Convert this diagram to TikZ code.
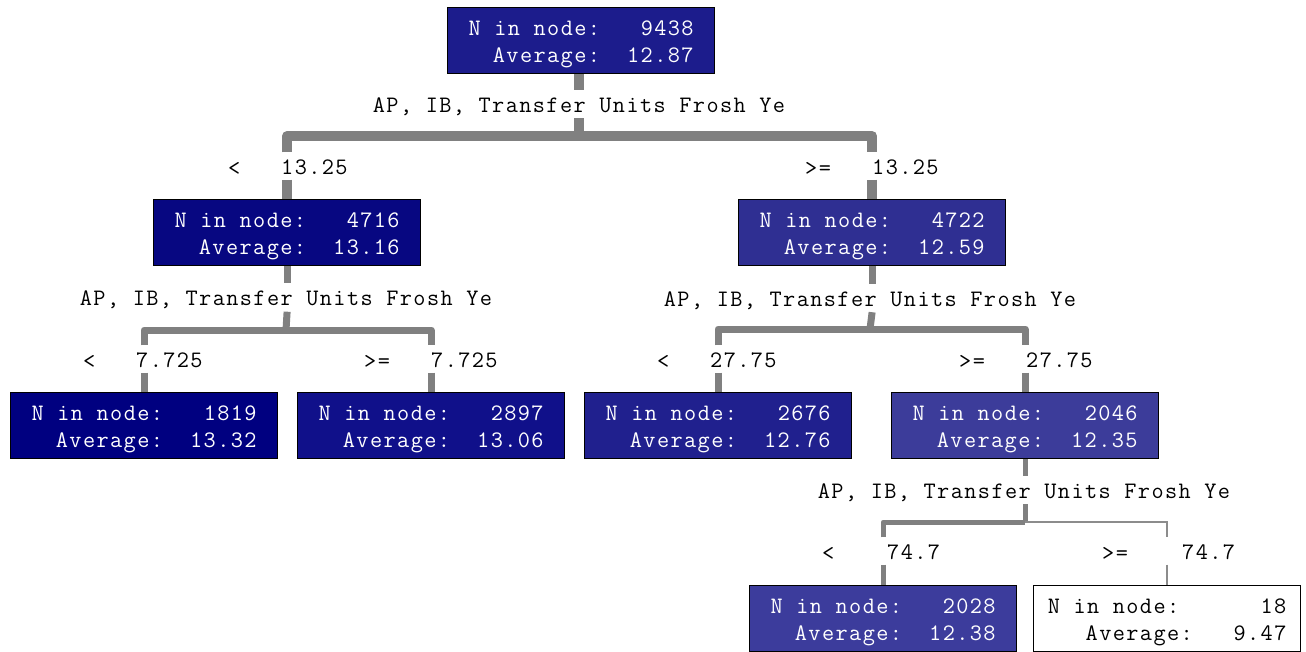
\documentclass[tikz,border=0pt]{standalone}
\usepackage{fontspec}
\setmonofont{Latin Modern Mono}[LetterSpace=6]
\definecolor{cRoot}{HTML}{1C1C8C}
\definecolor{cA}{HTML}{070781}
\definecolor{cB}{HTML}{2F2F92}
\definecolor{cAA}{HTML}{000080}
\definecolor{cAB}{HTML}{10108A}
\definecolor{cBA}{HTML}{20208E}
\definecolor{cBB}{HTML}{3C3C9A}
\definecolor{cBBA}{HTML}{3C3C9C}
\definecolor{edge}{HTML}{808080}
\definecolor{thinedge}{HTML}{8C8C8C}
\newcommand{\tfont}{\ttfamily\fontsize{23.6}{27}\selectfont}
\newcommand{\topstrut}{\rule{0pt}{22pt}}
\tikzset{
  tbox/.style={draw=black, line width=1.2pt, minimum width=267pt, minimum height=66pt,
    inner sep=0pt, text=white, font=\tfont, align=right, anchor=north west},
  varlbl/.style={font=\tfont, inner sep=0pt, text height=18pt, text depth=2pt, minimum height=28pt, anchor=center},
  thr/.style={font=\tfont, inner sep=0pt, text height=18pt, text depth=2pt, minimum height=27pt, anchor=west},
  relop/.style={font=\tfont, inner sep=0pt, text height=18pt, text depth=2pt, anchor=west},
  w1/.style={draw=edge, line width=10pt, line join=round},
  w2/.style={draw=edge, line width=7pt, line join=round},
  w3/.style={draw=edge, line width=5pt, line join=round},
  w4/.style={draw=thinedge, line width=1.3pt},
}
\begin{document}
\begin{tikzpicture}[x=1pt,y=-1pt]
\useasboundingbox (0,0) rectangle (1306,651);
% boxes
\node[tbox, fill=cRoot] (n0) at (447,7) {\topstrut N in node:~~~9438\\Average:~~12.87};
\node[tbox, fill=cA] (n1) at (153,199) {\topstrut N in node:~~~4716\\Average:~~13.16};
\node[tbox, fill=cB] (n2) at (738,199) {\topstrut N in node:~~~4722\\Average:~~12.59};
\node[tbox, fill=cAA] (n11) at (10,392) {\topstrut N in node:~~~1819\\Average:~~13.32};
\node[tbox, fill=cAB] (n12) at (297,392) {\topstrut N in node:~~~2897\\Average:~~13.06};
\node[tbox, fill=cBA] (n21) at (584,392) {\topstrut N in node:~~~2676\\Average:~~12.76};
\node[tbox, fill=cBB] (n22) at (891,392) {\topstrut N in node:~~~2046\\Average:~~12.35};
\node[tbox, fill=cBBA] (n221) at (749,585) {\topstrut N in node:~~~2028\\Average:~~12.38};
\node[tbox, fill=white, text=black] (n222) at (1033,585) {\topstrut N in node:~~~~~~18\\Average:~~~9.47};

% split labels
\node[varlbl] (v0) at (579,104) {AP, IB, Transfer Units Frosh Ye};
\node[varlbl] (v1) at (286,297.5) {AP, IB, Transfer Units Frosh Ye};
\node[varlbl] (v2) at (870,298) {AP, IB, Transfer Units Frosh Ye};
\node[varlbl] (v22) at (1024,490) {AP, IB, Transfer Units Frosh Ye};

% threshold labels
\node[relop] (r1) at (228,167) {<};
\node[thr] (t1) at (281,166) {13.25};
\node[relop] (r2) at (805,167) {>=};
\node[thr] (t2) at (872,166) {13.25};
\node[relop] (r11) at (83,360) {<};
\node[thr] (t11) at (136,359) {7.725};
\node[relop] (r12) at (364,360) {>=};
\node[thr] (t12) at (431,359) {7.725};
\node[relop] (r21) at (657,360) {<};
\node[thr] (t21) at (710,359) {27.75};
\node[relop] (r22) at (959,360) {>=};
\node[thr] (t22) at (1026,359) {27.75};
\node[relop] (r221) at (822,552) {<};
\node[thr] (t221) at (887,551) {74.7};
\node[relop] (r222) at (1102,552) {>=};
\node[thr] (t222) at (1182,551) {74.7};

% bar coordinates
\coordinate (b0) at (579,136);
\coordinate (b1) at (286,330);
\coordinate (b2) at (870,329);
\coordinate (b22) at (1024,522);

% level 1
\draw[w1] (n0.south -| b0) -- (v0.north -| b0);
\draw[w1] (v0.south -| b0) -- (b0);
\draw[w1] (n1.north |- t1.north) -- (n1.north |- b0) -- (n2.north |- b0) -- (n2.north |- t2.north);
\draw[w1] (n1.north |- t1.south) -- (n1.north);
\draw[w1] (n2.north |- t2.south) -- (n2.north);

% level 2 left
\draw[w2] (n1.south) -- (v1.north -| n1.south);
\draw[w2] (v1.south -| n1.south) -- (b1);
\draw[w2] (n11.north |- t11.north) -- (n11.north |- b1) -- (n12.north |- b1) -- (n12.north |- t12.north);
\draw[w2] (n11.north |- t11.south) -- (n11.north);
\draw[w2] (n12.north |- t12.south) -- (n12.north);

% level 2 right
\draw[w2] (n2.south) -- (v2.north -| n2.south);
\draw[w2] (v2.south -| n2.south) -- (b2);
\draw[w2] (n21.north |- t21.north) -- (n21.north |- b2) -- (n22.north |- b2) -- (n22.north |- t22.north);
\draw[w2] (n21.north |- t21.south) -- (n21.north);
\draw[w2] (n22.north |- t22.south) -- (n22.north);

% level 3
\draw[w3] (n22.south) -- (v22.north -| n22.south);
\draw[w3] (v22.south -| n22.south) -- (b22 -| n22.south);
\draw[w4] (b22 -| n22.south) -- (b22 -| n222.north) -- (n222.north |- t222.north);
\draw[w3] (n221.north |- t221.north) -- (n221.north |- b22) -- (b22 -| n22.south);
\draw[w3] (n221.north |- t221.south) -- (n221.north);
\draw[w4] (n222.north |- t222.south) -- (n222.north);
\end{tikzpicture}
\end{document}
